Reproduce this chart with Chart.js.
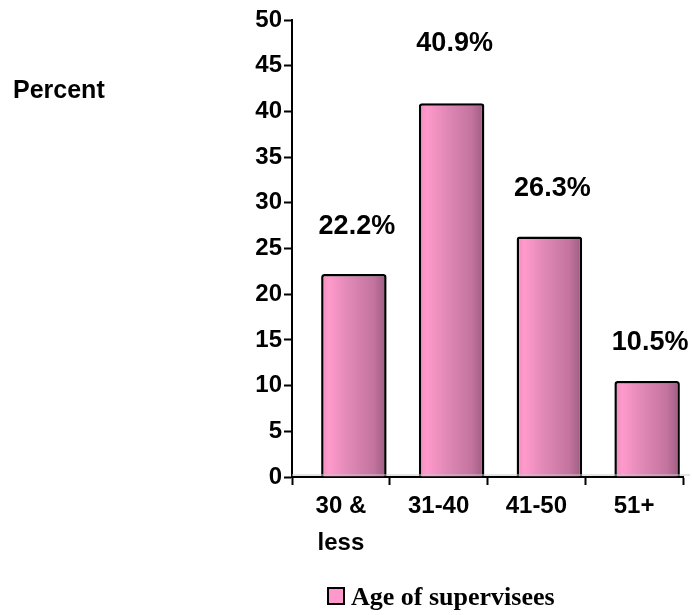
<!DOCTYPE html>
<html>
<head>
<meta charset="utf-8">
<style>
  html, body { margin: 0; padding: 0; background: #ffffff; }
  #wrap { width: 692px; height: 615px; position: relative; }
</style>
<script src="https://cdn.jsdelivr.net/npm/chart.js@4/dist/chart.umd.min.js"></script>
</head>
<body>
<div id="wrap"><canvas id="chart" width="692" height="615"></canvas></div>
<script>
// Age groups and share of supervisees in each (percent)
const categories = [['30 &', 'less'], '31-40', '41-50', '51+'];
const percentValues = [22.2, 40.9, 26.3, 10.5];
const valueLabels = ['22.2%', '40.9%', '26.3%', '10.5%'];
const yTicks = [0, 5, 10, 15, 20, 25, 30, 35, 40, 45, 50];
const seriesName = 'Age of supervisees';
const axisName = 'Percent';

// presentation settings
const BAR_SHIFT = 13;                 // bars sit a little right of the category centre
const BAR_PCT = 0.67;
const LABEL_LIFT = [48, 60, 48, 38];  // distance of each value label above its bar
const SANS = '"Liberation Sans", Arial, sans-serif';
const SERIF = '"Liberation Serif", "Times New Roman", serif';

function barFill(context) {
  const chart = context.chart;
  const xs = chart.scales && chart.scales.x;
  if (!xs || !(xs.width > 0)) return '#E08AB8';
  const cx = xs.getPixelForValue(context.dataIndex);
  const w = xs.width / categories.length * BAR_PCT;
  if (!isFinite(cx) || !isFinite(w)) return '#E08AB8';
  const g = chart.ctx.createLinearGradient(cx - w / 2, 0, cx + w / 2, 0);
  g.addColorStop(0.00, '#EE8CBF');
  g.addColorStop(0.12, '#FF9ACB');
  g.addColorStop(0.45, '#DE87B4');
  g.addColorStop(0.80, '#C4749F');
  g.addColorStop(1.00, '#9C5C7F');
  return g;
}

// shifts the bars sideways while the datasets are drawn
const barOffset = {
  id: 'barOffset',
  beforeDatasetsDraw(chart) {
    chart.ctx.save();
    chart.ctx.translate(BAR_SHIFT, 0);
  },
  afterDatasetsDraw(chart) {
    chart.ctx.restore();
  }
};

// faint floor line, value labels, axis name and legend
const decorations = {
  id: 'decorations',
  afterDraw(chart) {
    const ctx = chart.ctx;
    const area = chart.chartArea;
    const ys = chart.scales.y;
    const meta = chart.getDatasetMeta(0);

    ctx.save();
    // floor line
    ctx.strokeStyle = '#c8c8c8';
    ctx.lineWidth = 1;
    ctx.beginPath();
    ctx.moveTo(area.left, ys.getPixelForValue(0) - 2);
    ctx.lineTo(area.right + 7, ys.getPixelForValue(0) - 2);
    ctx.stroke();

    // value labels
    ctx.fillStyle = '#000';
    ctx.font = 'bold 27px ' + SANS;
    ctx.textAlign = 'center';
    ctx.textBaseline = 'middle';
    meta.data.forEach((bar, i) => {
      ctx.fillText(valueLabels[i], bar.x + BAR_SHIFT + 3, bar.y - LABEL_LIFT[i]);
    });

    // axis name
    ctx.font = 'bold 25px ' + SANS;
    ctx.textAlign = 'left';
    ctx.fillText(axisName, 13, 91);

    // legend
    const ds = chart.data.datasets[0];
    ctx.fillStyle = '#FF99CC';
    ctx.fillRect(328, 588, 16, 16);
    ctx.strokeStyle = '#000';
    ctx.lineWidth = 2;
    ctx.strokeRect(328, 588, 16, 16);
    ctx.fillStyle = '#000';
    ctx.font = 'bold 26px ' + SERIF;
    ctx.textAlign = 'left';
    ctx.textBaseline = 'alphabetic';
    ctx.fillText(ds.label, 351, 605);
    ctx.restore();
  }
};

const chart = new Chart(document.getElementById('chart'), {
  type: 'bar',
  data: {
    labels: categories,
    datasets: [{
      label: seriesName,
      data: percentValues,
      backgroundColor: barFill,
      borderColor: '#000000',
      borderWidth: 2.5,
      borderSkipped: 'bottom',
      borderRadius: { topLeft: 3, topRight: 3, bottomLeft: 0, bottomRight: 0 },
      categoryPercentage: 1.0,
      barPercentage: BAR_PCT
    }]
  },
  options: {
    responsive: false,
    animation: false,
    devicePixelRatio: 1,
    layout: { padding: { top: 20, right: 9, left: 0, bottom: 0 } },
    plugins: {
      legend: { display: false },
      tooltip: { enabled: false }
    },
    scales: {
      x: {
        type: 'category',
        offset: true,
        afterFit(scale) { scale.height = 138; },
        border: { display: true, color: '#000', width: 2 },
        grid: {
          display: true,
          drawOnChartArea: false,
          drawTicks: true,
          tickLength: 8,
          tickColor: '#000',
          tickWidth: 2,
          offset: true
        },
        ticks: {
          color: '#000',
          padding: 3,
          maxRotation: 0,
          autoSkip: false,
          font: { family: SANS, size: 24, weight: 'bold', lineHeight: 1.55 }
        }
      },
      y: {
        min: 0,
        max: 50,
        afterFit(scale) { scale.width = 292; },
        afterBuildTicks(scale) { scale.ticks = yTicks.map(v => ({ value: v })); },
        border: { display: true, color: '#000', width: 2 },
        grid: {
          display: true,
          drawOnChartArea: false,
          drawTicks: true,
          tickLength: 8,
          tickColor: '#000',
          tickWidth: 2
        },
        ticks: {
          color: '#000',
          padding: 2,
          font: { family: SANS, size: 24, weight: 'bold' }
        }
      }
    }
  },
  plugins: [barOffset, decorations]
});
chart.update();
</script>
</body>
</html>
